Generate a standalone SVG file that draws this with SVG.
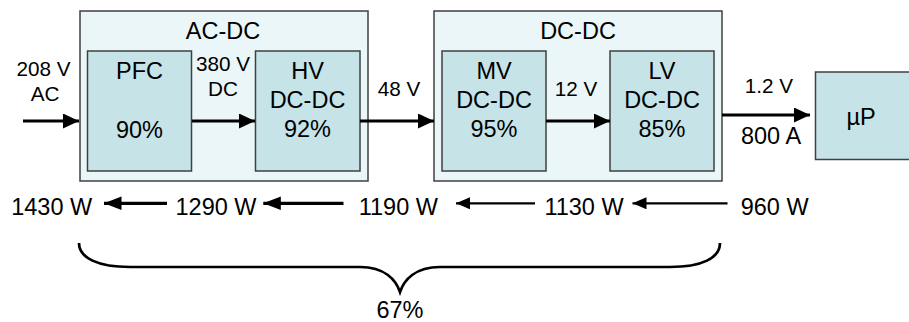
<svg xmlns="http://www.w3.org/2000/svg" width="909" height="322" viewBox="0 0 909 322">
<defs>
<style>
text{font-family:"Liberation Sans",Arial,sans-serif;fill:#000;text-anchor:middle}
.big{font-size:23.5px}
.sm{font-size:20.7px}
.outer{fill:#eaf6f7;stroke:#404040;stroke-width:1.5}
.inner{fill:#c6e3e8;stroke:#404040;stroke-width:1.5}
.fw{stroke:#000;stroke-width:3.2;fill:none}
.thin{stroke:#000;stroke-width:2.2;fill:none}
</style>
<marker id="ah" markerUnits="userSpaceOnUse" markerWidth="17" markerHeight="16" refX="16" refY="7.5" orient="auto">
<path d="M0,0 L16,7.5 L0,15 Z" fill="#000"/>
</marker>
<marker id="ahb" markerUnits="userSpaceOnUse" markerWidth="18" markerHeight="14" refX="17.5" refY="6.7" orient="auto">
<path d="M0,0 L17.5,6.7 L0,13.4 Z" fill="#000"/>
</marker>
<marker id="aht" markerUnits="userSpaceOnUse" markerWidth="15" markerHeight="13" refX="14" refY="6" orient="auto">
<path d="M0,0 L14,6 L0,12 Z" fill="#000"/>
</marker>
</defs>
<rect width="909" height="322" fill="#fff"/>
<g id="acdc">
<rect class="outer" x="80" y="11" width="288" height="170"/>
<text class="big" x="223" y="38.5">AC-DC</text>
</g>
<g id="dcdc">
<rect class="outer" x="434" y="11" width="288" height="170"/>
<text class="big" x="578" y="38.5">DC-DC</text>
</g>
<g id="pfc">
<rect class="inner" x="87.5" y="51" width="104" height="120"/>
<text class="big" x="139.5" y="79">PFC</text>
<text class="big" x="139.5" y="137.5">90%</text>
</g>
<g id="hv">
<rect class="inner" x="255.5" y="51" width="104.5" height="120"/>
<text class="big" x="307.5" y="79">HV</text>
<text class="big" x="307.5" y="108">DC-DC</text>
<text class="big" x="307.5" y="137">92%</text>
</g>
<g id="mv">
<rect class="inner" x="442" y="51" width="104" height="120"/>
<text class="big" x="494" y="79">MV</text>
<text class="big" x="494" y="108">DC-DC</text>
<text class="big" x="494" y="137">95%</text>
</g>
<g id="lv">
<rect class="inner" x="610" y="51" width="104" height="120"/>
<text class="big" x="662" y="79">LV</text>
<text class="big" x="662" y="108">DC-DC</text>
<text class="big" x="662" y="137">85%</text>
</g>
<g id="up">
<rect class="inner" x="815.5" y="72" width="100" height="87.5"/>
<text class="big" x="861" y="125">µP</text>
</g>
<g id="connectors">
<line class="fw" x1="23" y1="121" x2="79" y2="121" marker-end="url(#ah)"/>
<line class="fw" x1="192" y1="121" x2="255" y2="121" marker-end="url(#ah)"/>
<line class="fw" x1="360" y1="121" x2="434" y2="121" marker-end="url(#ah)"/>
<line class="fw" x1="546" y1="121" x2="610" y2="121" marker-end="url(#ah)"/>
<line class="fw" x1="722" y1="115" x2="810" y2="115" marker-end="url(#ah)"/>
<line class="fw" x1="167" y1="203.3" x2="104" y2="203.3" marker-end="url(#ahb)"/>
<line class="fw" x1="343.5" y1="203.3" x2="263.3" y2="203.3" marker-end="url(#ahb)"/>
<line class="thin" x1="535" y1="203.3" x2="456" y2="203.3" marker-end="url(#aht)"/>
<line class="thin" x1="727.5" y1="203.3" x2="632.5" y2="203.3" marker-end="url(#aht)"/>
<path class="thin" style="stroke-width:2.7" d="M79,243 C79,258 98,267 130,267 L360,267 C385,267 396,280 400,292 C404,280 415,267 440,267 L670,267 C702,267 720,258 720,243"/>
</g>
<g id="labels">
<text class="sm" x="43.5" y="76">208 V</text>
<text class="sm" x="45" y="101">AC</text>
<text class="sm" x="223" y="71">380 V</text>
<text class="sm" x="223" y="96">DC</text>
<text class="sm" x="399" y="96">48 V</text>
<text class="sm" x="576" y="96">12 V</text>
<text class="sm" x="769" y="93">1.2 V</text>
<text class="big" x="771" y="143.5">800 A</text>
<text class="big" x="51.7" y="214.5">1430 W</text>
<text class="big" x="216" y="214.5">1290 W</text>
<text class="big" x="398.3" y="214.5">1190 W</text>
<text class="big" x="584" y="214.5">1130 W</text>
<text class="big" x="774.7" y="214.5">960 W</text>
<text class="big" x="400" y="318">67%</text>
</g>
</svg>
